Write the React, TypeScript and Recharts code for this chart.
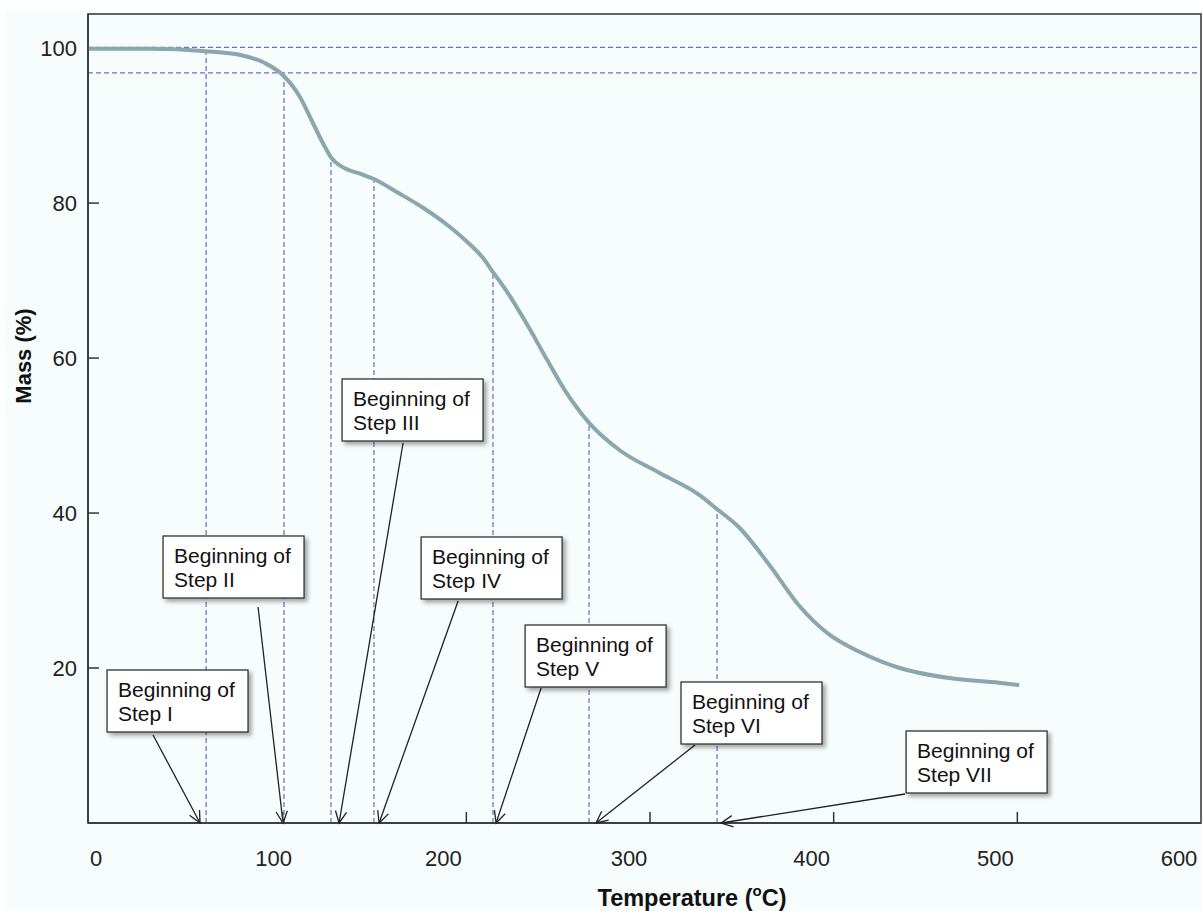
import { LineChart, Line, XAxis, YAxis, ReferenceLine, ReferenceDot, ReferenceArea } from "recharts"

// TGA curve
const temps = [-6, 27.7, 58, 77, 90, 100.2, 109.4, 116.5, 123.1, 126.3, 132.9, 142.1, 149.7, 162.3, 176.4, 189.5, 200.4, 209.1, 214.5, 222, 233.9, 242.7, 253.5, 266.6, 283.5, 305, 327, 336, 348.7, 365, 381, 397.7, 414, 436, 463, 490, 501]
const masses = [99.9, 99.9, 99.6, 99.1, 98.1, 96.5, 93.7, 90.3, 87.2, 85.9, 84.6, 83.8, 83.1, 81.4, 79.4, 77.2, 75.0, 72.9, 71.1, 68.6, 64.0, 60.3, 55.9, 51.7, 48.1, 45.2, 42.3, 40.6, 38.1, 33.3, 28.1, 24.3, 22.1, 20.0, 18.7, 18.1, 17.8]

const xTicks = [0, 100, 200, 300, 400, 500, 600]
const yTicks = [20, 40, 60, 80, 100]

// dashed guide lines
const guideTemps = [58.3, 100.7, 126.3, 149.7, 214.5, 266.8, 336.5]
const guideMasses = [99.6, 96.5, 85.9, 83.1, 71.1, 51.8, 40.5]
const levelMasses = [100.1, 96.8]

// step onset arrows
const stepNames = ["Step I", "Step II", "Step III", "Step IV", "Step V", "Step VI", "Step VII"]
const stepTemps = [55.0, 100.2, 130.7, 152.5, 216.2, 270.6, 338.7]

// box / arrow-tail offsets (px) relative to arrow tip
const boxOffsets = [[-93, -153], [-120, -287], [3, -444], [42, -286], [29, -198], [85, -141], [185, -92]]
const tailOffsets = [[-47, -88], [-25, -216], [64, -380], [79, -222], [45, -135], [99, -78], [184, -29]]
const xLabelShift = [-3, -9, -23, -21, -22, -22, -22]

const rows = temps.map((t, i) => ({ temp: t, mass: masses[i] }))

const FONT = '"Liberation Sans", Arial, sans-serif'
const DASH = "#4d4db8"

const XTick = (props: any) => {
  const { x, y, payload } = props
  const i = xTicks.indexOf(payload.value)
  return (
    <g>
      {payload.value > 0 && payload.value < 600 && <line x1={x} y1={y} x2={x} y2={y - 11} stroke="#333" strokeWidth={1.5} />}
      <text x={x + (xLabelShift[i] ?? 0)} y={y + 35} textAnchor="middle" dominantBaseline="central" fontSize={22} fill="#222" fontFamily={FONT}>
        {payload.value}
      </text>
    </g>
  )
}

const YTick = (props: any) => {
  const { x, y, payload } = props
  return (
    <g>
      {payload.value < 100 && <line x1={x} y1={y} x2={x + 11} y2={y} stroke="#333" strokeWidth={1.5} />}
      <text x={x - 11} y={y} textAnchor="end" dominantBaseline="central" fontSize={22} fill="#222" fontFamily={FONT}>
        {payload.value}
      </text>
    </g>
  )
}

const Callout = (props: any) => {
  const { cx, cy, idx } = props
  const [bx, by] = boxOffsets[idx]
  const [tx, ty] = tailOffsets[idx]
  const x0 = cx + tx
  const y0 = cy + ty
  const ang = Math.atan2(cy - y0, cx - x0)
  const len = 13
  const spread = 0.45
  const h1x = cx - len * Math.cos(ang - spread)
  const h1y = cy - len * Math.sin(ang - spread)
  const h2x = cx - len * Math.cos(ang + spread)
  const h2y = cy - len * Math.sin(ang + spread)
  const left = cx + bx
  const top = cy + by
  return (
    <g>
      <line x1={x0} y1={y0} x2={cx} y2={cy} stroke="#222" strokeWidth={1.3} />
      <polyline points={`${h1x},${h1y} ${cx},${cy} ${h2x},${h2y}`} fill="none" stroke="#222" strokeWidth={1.3} />
      <g style={{ filter: "drop-shadow(3px 3px 2px rgba(0,0,0,0.35))" }}>
        <rect x={left} y={top} width={141} height={62} fill="#fff" stroke="#333" strokeWidth={1.3} />
      </g>
      <text x={left + 11} y={top + 27} fontSize={21} fill="#111" fontFamily={FONT}>Beginning of</text>
      <text x={left + 11} y={top + 51} fontSize={21} fill="#111" fontFamily={FONT}>{stepNames[idx]}</text>
    </g>
  )
}

export default function App() {
  return (
    <div style={{ position: "absolute", left: 0, top: 0, width: 1203, height: 911, background: "#fff", fontFamily: FONT }}>
      <div style={{ position: "absolute", left: 5, top: 10, right: 0, bottom: 0, background: "#f7fcfc" }} />
      <div style={{ position: "absolute", left: 0, top: 0 }}>
        <LineChart width={1203} height={911} data={rows} margin={{ top: 14, right: 2, bottom: 0, left: 0 }}>
          <XAxis
            type="number"
            dataKey="temp"
            domain={[-6, 600]}
            ticks={xTicks}
            interval={0}
            allowDataOverflow
            height={88}
            tickSize={0}
            tickMargin={0}
            tickLine={false}
            axisLine={{ stroke: "#333", strokeWidth: 1.5 }}
            tick={(p: any) => <XTick {...p} />}
            label={{
              content: () => (
                <text x={692} y={898} textAnchor="middle" dominantBaseline="central" fontSize={23.5} fontWeight="bold" fill="#111" fontFamily={FONT}>
                  Temperature (<tspan dy={-8} fontSize={15}>o</tspan><tspan dy={8}>C)</tspan>
                </text>
              ),
            }}
          />
          <YAxis
            type="number"
            domain={[0, 104.4]}
            ticks={yTicks}
            interval={0}
            allowDataOverflow
            width={88}
            tickSize={0}
            tickMargin={0}
            tickLine={false}
            axisLine={{ stroke: "#333", strokeWidth: 1.5 }}
            tick={(p: any) => <YTick {...p} />}
            label={{
              content: () => (
                <text x={23} y={356} transform="rotate(-90, 23, 356)" textAnchor="middle" dominantBaseline="central" fontSize={22} fontWeight="bold" fill="#111" fontFamily={FONT}>
                  Mass (%)
                </text>
              ),
            }}
          />
          <ReferenceArea x1={-6} x2={600} y1={0} y2={104.4} fill="none" stroke="#333" strokeWidth={1.5} ifOverflow="visible" />
          {levelMasses.map((m) => (
            <ReferenceLine key={"h" + m} y={m} stroke={DASH} strokeDasharray="5 3" strokeWidth={1} />
          ))}
          {guideTemps.map((t, i) => (
            <ReferenceLine key={"v" + t} segment={[{ x: t, y: 0 }, { x: t, y: guideMasses[i] }]} stroke={DASH} strokeDasharray="5 3" strokeWidth={1} />
          ))}
          <Line type="monotone" dataKey="mass" stroke="#8aa6ae" strokeWidth={4} dot={false} isAnimationActive={false} />
          {stepTemps.map((t, i) => (
            <ReferenceDot key={"s" + i} x={t} y={0} r={0} shape={(p: any) => <Callout {...p} idx={i} />} />
          ))}
        </LineChart>
      </div>
    </div>
  )
}
